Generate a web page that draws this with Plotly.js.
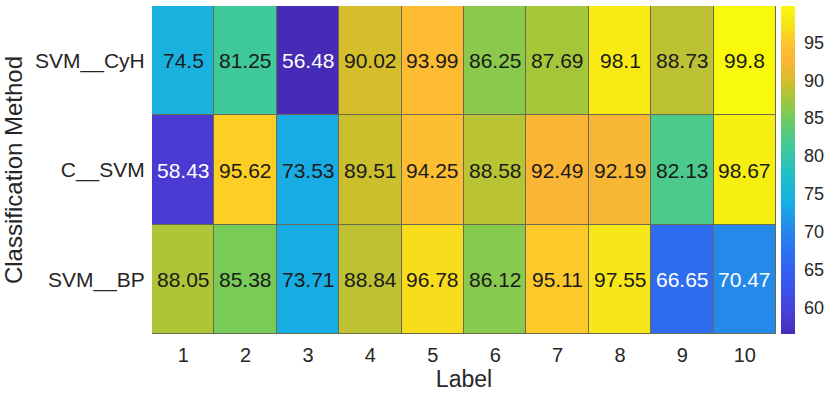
<!DOCTYPE html>
<html>
<head>
<meta charset="utf-8">
<script src="https://cdn.plot.ly/plotly-3.0.1.min.js"></script>
<style>html,body{margin:0;padding:0;background:#fff;}#chart{width:831px;height:400px;}</style>
</head>
<body>
<div id="chart"></div>
<script>
// ---- data ----
var methods = ["SVM__CyH", "C__SVM", "SVM__BP"];
var labels = ["1", "2", "3", "4", "5", "6", "7", "8", "9", "10"];
var svmCyH = [74.5, 81.25, 56.48, 90.02, 93.99, 86.25, 87.69, 98.1, 88.73, 99.8];
var cSvm   = [58.43, 95.62, 73.53, 89.51, 94.25, 88.58, 92.49, 92.19, 82.13, 98.67];
var svmBp  = [88.05, 85.38, 73.71, 88.84, 96.78, 86.12, 95.11, 97.55, 66.65, 70.47];
var colorbarTicks = [60, 65, 70, 75, 80, 85, 90, 95];

var z = [svmCyH, cSvm, svmBp];

// parula-like colorscale (style)
var cscale = [
  [0.00, "#452bb5"], [0.05, "#4a3cd4"], [0.13, "#3c50ea"], [0.235, "#2e6cf2"],
  [0.32, "#2588e8"], [0.40, "#17aee4"], [0.48, "#1fbfc8"], [0.57, "#3ec99c"],
  [0.66, "#72cc5a"], [0.72, "#a6c63a"], [0.77, "#d3be2b"], [0.83, "#fbb535"],
  [0.87, "#fdbd32"], [0.90, "#fccc27"], [0.94, "#f7e31a"], [1.00, "#f9f90c"]
];

var FONT = "Liberation Sans, Arial, Helvetica, sans-serif";

var annotations = [];
z.forEach(function (row, i) {
  row.forEach(function (v, j) {
    annotations.push({
      x: j, y: i, xref: "x", yref: "y",
      text: String(v), showarrow: false,
      font: { family: FONT, size: 21, color: v < 72 ? "#ffffff" : "#1a1a1a" }
    });
  });
});

var trace = {
  type: "heatmap",
  x: labels,
  y: methods,
  z: z,
  colorscale: cscale,
  xgap: 1, ygap: 1,
  hoverongaps: false,
  colorbar: {
    x: 1.008, xanchor: "left", y: 0.5, yanchor: "middle",
    len: 1, lenmode: "fraction", thickness: 14, thicknessmode: "pixels",
    xpad: 0, ypad: 0, outlinewidth: 0,
    tickvals: colorbarTicks, ticks: "outside", ticklen: 6, tickcolor: "rgba(0,0,0,0)",
    tickfont: { family: FONT, size: 18, color: "#262626" }
  }
};

var layout = {
  width: 831, height: 400,
  margin: { l: 152, r: 53, t: 6, b: 66 },
  paper_bgcolor: "#ffffff",
  plot_bgcolor: "#6a6a50",
  font: { family: FONT, color: "#262626" },
  xaxis: {
    type: "category", categoryarray: labels, showgrid: false, zeroline: false,
    ticks: "outside", ticklen: 3, tickcolor: "rgba(0,0,0,0)",
    tickfont: { family: FONT, size: 20, color: "#262626" },
    title: { text: "Label", font: { family: FONT, size: 23, color: "#262626" }, standoff: 2 }
  },
  yaxis: {
    type: "category", categoryarray: methods, autorange: "reversed",
    showgrid: false, zeroline: false,
    ticks: "outside", ticklen: 2, tickcolor: "rgba(0,0,0,0)",
    tickfont: { family: FONT, size: 21, color: "#262626" },
    title: { text: "Classification Method", font: { family: FONT, size: 24, color: "#262626" }, standoff: 6 }
  },
  annotations: annotations
};

Plotly.newPlot("chart", [trace], layout, { displayModeBar: false, staticPlot: true });
</script>
</body>
</html>
